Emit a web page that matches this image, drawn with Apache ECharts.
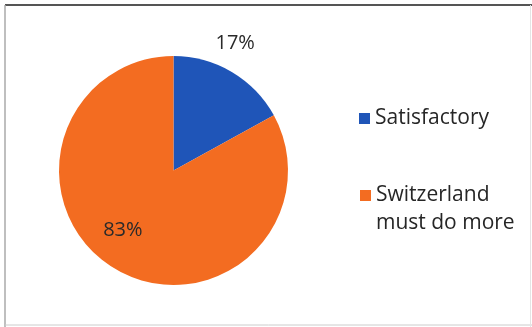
<!DOCTYPE html>
<html>
<head>
<meta charset="utf-8">
<script src="https://cdn.jsdelivr.net/npm/echarts@6/dist/echarts.min.js"></script>
<style>html,body{margin:0;padding:0;background:#fff}#c{width:532px;height:327px}</style>
</head>
<body>
<div id="c"></div>
<script>
var categories = ['Satisfactory', 'Switzerland must do more'];
var values = [17, 83];
var colors = ['#1f55b8', '#f36c21'];

var chart = echarts.init(document.getElementById('c'), null, {renderer: 'canvas'});
var font = '"Open Sans", Lato, sans-serif';
var data = categories.map(function (c, i) {
  return {
    name: c,
    value: values[i],
    itemStyle: {color: colors[i]},
    label: i === 0 ? {offset: [31, -75]} : {offset: [-20, 8]}
  };
});
chart.setOption({
  animation: false,
  backgroundColor: '#fff',
  graphic: [
    {type: 'line', shape: {x1: 5, y1: 5, x2: 532, y2: 5}, style: {stroke: '#555', lineWidth: 2}},
    {type: 'line', shape: {x1: 5, y1: 5, x2: 5, y2: 327}, style: {stroke: '#aaa', lineWidth: 1.5}},
    {type: 'line', shape: {x1: 5, y1: 325, x2: 532, y2: 325}, style: {stroke: '#ccc', lineWidth: 1}},
    {type: 'line', shape: {x1: 530.5, y1: 5, x2: 530.5, y2: 327}, style: {stroke: '#e4e4e4', lineWidth: 1}}
  ],
  legend: [
    {
      data: [categories[0]],
      left: 354, top: 99.5,
      icon: 'rect', itemWidth: 11, itemHeight: 11, itemGap: 0,
      textStyle: {fontFamily: font, fontSize: 21, lineHeight: 28, color: '#262626'}
    },
    {
      data: [categories[1]],
      left: 355, top: 148.5,
      icon: 'rect', itemWidth: 11, itemHeight: 11, itemGap: 0,
      formatter: function (n) { return '\n' + n.replace(' must', '\nmust'); },
      textStyle: {fontFamily: font, fontSize: 21, lineHeight: 28, color: '#262626'}
    }
  ],
  series: [{
    type: 'pie',
    center: [173.5, 170.5],
    radius: 114.5,
    startAngle: 90,
    clockwise: true,
    data: data,
    label: {
      show: true,
      position: 'inside',
      formatter: '{d}%',
      fontFamily: font,
      fontSize: 20,
      color: '#2a2a2a'
    },
    labelLine: {show: false},
    emphasis: {disabled: true}
  }]
});
</script>
</body>
</html>
